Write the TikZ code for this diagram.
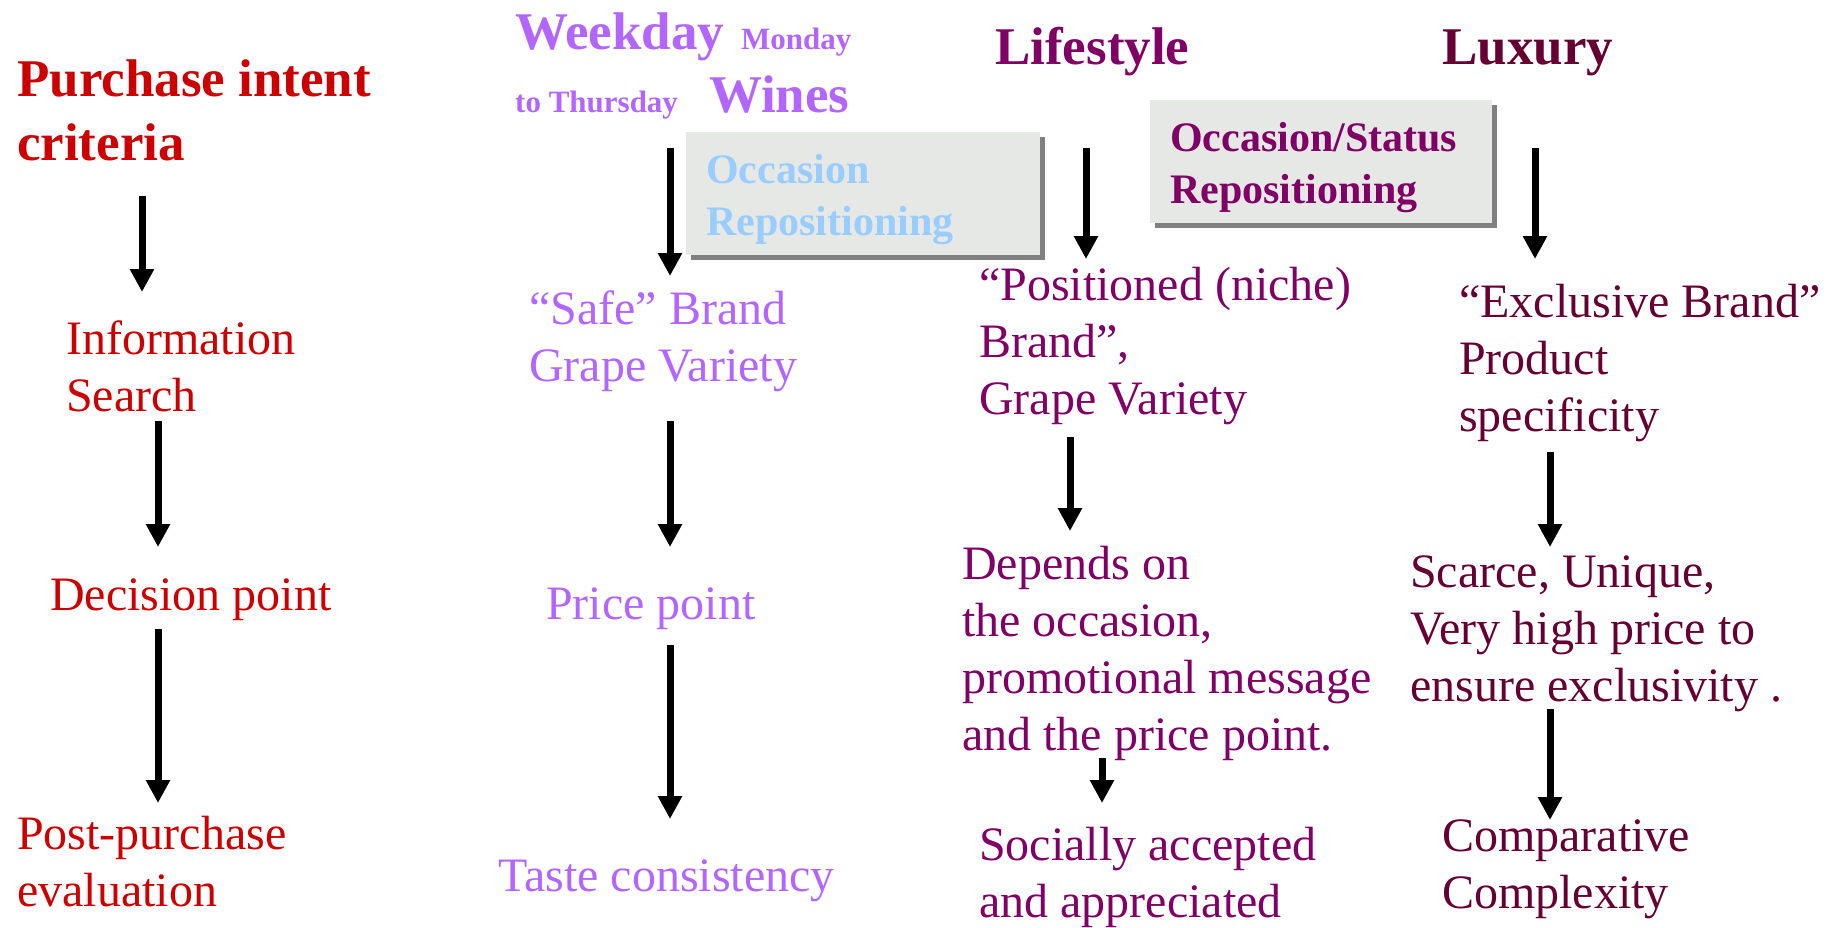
\documentclass[tikz,border=0pt]{standalone}
\usepackage{fontspec}
\setmainfont{Liberation Serif}
\usetikzlibrary{arrows.meta}
\definecolor{cred}{HTML}{CC0000}
\definecolor{cpurp}{HTML}{B266FF}
\definecolor{cblue}{HTML}{99CCFF}
\definecolor{clife}{HTML}{800066}
\definecolor{clux}{HTML}{660033}
\definecolor{cbox}{HTML}{E6E8E6}
\definecolor{cshad}{HTML}{808080}
\newcommand{\ml}[1]{\begin{tabular}[t]{@{}l@{}}#1\end{tabular}}
\begin{document}
\begin{tikzpicture}[x=1pt,y=-1pt,
  txt/.style={anchor=base west, inner sep=0pt, font=\fontsize{48}{57}\selectfont},
  head/.style={anchor=base west, inner sep=0pt, font=\fontsize{53}{64}\selectfont\bfseries},
  small/.style={anchor=base west, inner sep=0pt, font=\fontsize{31}{36}\selectfont\bfseries},
  boxtxt/.style={anchor=base west, inner sep=0pt, font=\fontsize{42}{52}\selectfont\bfseries},
  arr/.style={line width=7pt, -{Triangle[width=23pt,length=23pt]}, black},
  panel/.style={fill=cbox, draw=none},
  shade/.style={fill=cshad, draw=none}]
\useasboundingbox (0,0) rectangle (1827,928);

% column 1
\node[head, text=cred] (pic) at (17,97) {\fontsize{53}{64}\selectfont\ml{Purchase intent\\criteria}};
\node[txt, text=cred] (info) at (66,354) {\ml{Information\\Search}};
\node[txt, text=cred] (dec) at (50,610) {Decision point};
\node[txt, text=cred] (post) at (17,849) {\ml{Post-purchase\\evaluation}};
\coordinate (a1s) at (142,196); \coordinate (a1e) at (142,292);
\coordinate (a2s) at (158,421); \coordinate (a2e) at (158,547);
\coordinate (a3s) at (158,629); \coordinate (a3e) at (158,803);
\draw[arr] (a1s) -- (a1e);
\draw[arr] (a2s) -- (a2e);
\draw[arr] (a3s) -- (a3e);

% column 2
\node[head, text=cpurp] (wk) at (515,50) {Weekday};
\node[small, text=cpurp] (mon) at (741,50) {Monday};
\node[small, text=cpurp] (thu) at (515,113) {to Thursday};
\node[head, text=cpurp] (wines) at (709,113) {Wines};
\fill[shade] (691,137) rectangle (1045,260);
\fill[panel] (686,132) rectangle (1040,255);
\node[boxtxt, text=cblue] (occ) at (706,183) {\ml{Occasion\\Repositioning}};
\node[txt, text=cpurp] (safe) at (529,324) {\ml{“Safe” Brand\\Grape Variety}};
\node[txt, text=cpurp] (price) at (546,619) {Price point};
\node[txt, text=cpurp] (taste) at (498,891) {Taste consistency};
\coordinate (b1s) at (670,148); \coordinate (b1e) at (670,276);
\coordinate (b2s) at (670,421); \coordinate (b2e) at (670,547);
\coordinate (b3s) at (670,645); \coordinate (b3e) at (670,819);
\draw[arr] (b1s) -- (b1e);
\draw[arr] (b2s) -- (b2e);
\draw[arr] (b3s) -- (b3e);

% column 3
\node[head, text=clife] (life) at (995,65) {Lifestyle};
\node[txt, text=clife] (posi) at (979,300) {\ml{“Positioned (niche)\\Brand”,\\Grape Variety}};
\node[txt, text=clife] (dep) at (962,579) {\ml{Depends on\\the occasion,\\promotional message\\and the price point.}};
\node[txt, text=clife] (soc) at (979,860) {\ml{Socially accepted\\and appreciated}};
\coordinate (c1s) at (1086,148); \coordinate (c1e) at (1086,259);
\coordinate (c2s) at (1070,437); \coordinate (c2e) at (1070,531);
\coordinate (c3s) at (1102,758); \coordinate (c3e) at (1102,803);
\draw[arr] (c1s) -- (c1e);
\draw[arr] (c2s) -- (c2e);
\draw[arr] (c3s) -- (c3e);

% column 4
\node[head, text=clux] (lux) at (1442,65) {Luxury};
\fill[shade] (1155,105) rectangle (1497,228);
\fill[panel] (1150,100) rectangle (1492,223);
\node[boxtxt, text=clife] (ost) at (1170,152) {\ml{Occasion/Status\\Repositioning}};
\node[txt, text=clux] (excl) at (1459,317) {\ml{“Exclusive Brand”\\Product\\specificity}};
\node[txt, text=clux] (scar) at (1410,587) {\ml{Scarce, Unique,\\Very high price to\\ensure exclusivity .}};
\node[txt, text=clux] (comp) at (1442,851) {\ml{Comparative\\Complexity}};
\coordinate (d1s) at (1535,148); \coordinate (d1e) at (1535,259);
\coordinate (d2s) at (1550,452); \coordinate (d2e) at (1550,547);
\coordinate (d3s) at (1550,709); \coordinate (d3e) at (1550,820);
\draw[arr] (d1s) -- (d1e);
\draw[arr] (d2s) -- (d2e);
\draw[arr] (d3s) -- (d3e);
\end{tikzpicture}
\end{document}
